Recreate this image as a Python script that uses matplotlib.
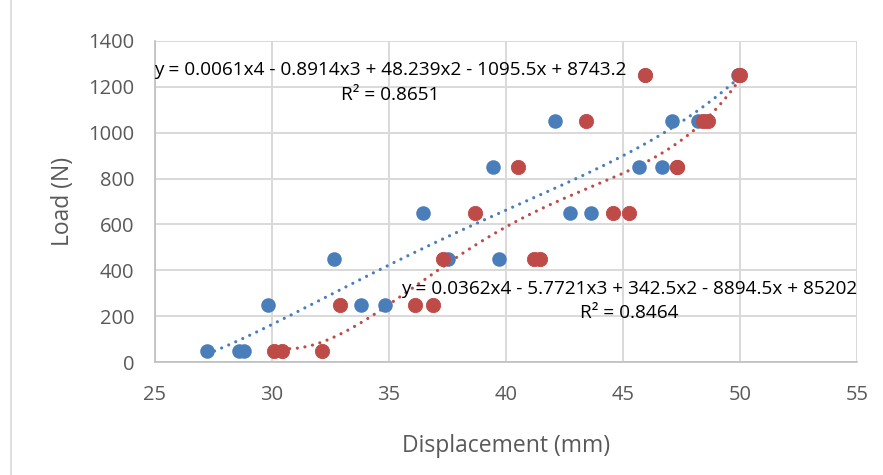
import numpy as np
import matplotlib
matplotlib.use("Agg")
import matplotlib.pyplot as plt
from matplotlib.lines import Line2D

# Data (some points overlap / are hidden behind others)
blue_x = [27.24, 28.6, 28.8, 29.84, 33.82, 34.83, 32.64, 37.54, 39.72,
          36.45, 42.75, 43.62, 39.43, 45.67, 46.67, 42.09, 47.08, 48.22,
          45.93, 49.93, 49.95]
blue_y = [50, 50, 50, 250, 250, 250, 450, 450, 450,
          650, 650, 650, 850, 850, 850, 1050, 1050, 1050,
          1250, 1250, 1250]
red_x = [30.10, 30.44, 32.12, 32.92, 36.13, 36.87, 37.31, 41.2, 41.45,
         38.69, 44.56, 45.24, 40.53, 47.29, 47.31, 43.42, 48.4, 48.65,
         45.93, 49.96, 49.98]
red_y = [50, 50, 50, 250, 250, 250, 450, 450, 450,
         650, 650, 650, 850, 850, 850, 1050, 1050, 1050,
         1250, 1250, 1250]

blue_eq = "y = 0.0061x4 - 0.8914x3 + 48.239x2 - 1095.5x + 8743.2"
blue_r2 = "R² = 0.8651"
red_eq = "y = 0.0362x4 - 5.7721x3 + 342.5x2 - 8894.5x + 85202"
red_r2 = "R² = 0.8464"

xticks = [25, 30, 35, 40, 45, 50, 55]
yticks = [0, 200, 400, 600, 800, 1000, 1200, 1400]

BLUE = "#4A7EBB"
RED = "#BE4B48"
TICK = "#595959"
GRID = "#D9D9D9"

plt.rcParams['font.family'] = ['Open Sans', 'DejaVu Sans']

fig = plt.figure(figsize=(8.83, 4.75), dpi=100)
ax = fig.add_axes([155/883, 1-362/475, (857-155)/883, (362-41)/475])

ax.set_xlim(25, 55)
ax.set_ylim(0, 1400)
ax.set_xticks(xticks)
ax.set_yticks(yticks)
ax.grid(True, color=GRID, linewidth=1.4)
ax.set_axisbelow(True)
for s in ['top', 'right']:
    ax.spines[s].set_visible(False)
for s in ['left', 'bottom']:
    ax.spines[s].set_color("#BFBFBF")
    ax.spines[s].set_linewidth(1.2)
ax.tick_params(length=0, labelsize=14.5, colors=TICK)
ax.tick_params(axis='y', pad=15)
ax.tick_params(axis='x', pad=16.5)

# trendlines (4th order polynomial fits)
for xs, ys, c in [(blue_x, blue_y, BLUE), (red_x, red_y, RED)]:
    p = np.polyfit(xs, ys, 4)
    xx = np.linspace(min(xs), max(xs), 300)
    ax.plot(xx, np.polyval(p, xx), linestyle=(0, (0.01, 2.4)), color=c,
            linewidth=2.3, dash_capstyle='round', zorder=2)

ax.scatter(blue_x, blue_y, s=110, color=BLUE, zorder=3, linewidths=0)
ax.scatter(red_x, red_y, s=106, color=RED, edgecolors=RED, zorder=4, linewidths=0.6)

ax.text(35.04, 1273, blue_eq, ha='center', va='center', fontsize=13.7, color='black', zorder=5)
ax.text(35.04, 1164, blue_r2, ha='center', va='center', fontsize=13.7, color='black', zorder=5)
ax.text(45.26, 318, red_eq, ha='center', va='center', fontsize=13.7, color='black', zorder=5)
ax.text(45.26, 214, red_r2, ha='center', va='center', fontsize=13.7, color='black', zorder=5)

ax.set_xlabel("Displacement (mm)", fontsize=16.5, color=TICK, labelpad=21)
ax.set_ylabel("Load (N)", fontsize=16.5, color=TICK, labelpad=9.5)

fig.add_artist(Line2D([11/883, 11/883], [0, 1], color="#D9D9D9", linewidth=1.2,
                      transform=fig.transFigure))

fig.savefig("out.png", dpi=100)
